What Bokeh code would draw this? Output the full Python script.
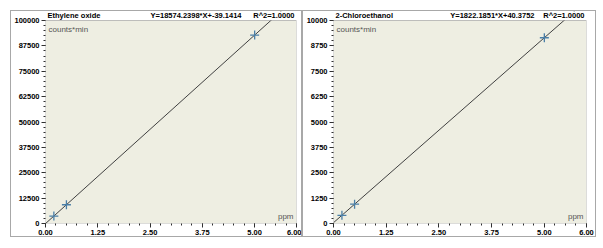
from bokeh.plotting import figure
from bokeh.models import Label, FixedTicker, Range1d, BoxAnnotation
from bokeh.layouts import row
from bokeh.embed import file_html
from bokeh.resources import INLINE

# ---- data ----
compounds = ["Ethylene oxide", "2-Chloroethanol"]
slopes = [18574.2398, 1822.1851]
intercepts = [-39.1414, 40.3752]
r2 = ["1.0000", "1.0000"]
x_points = [0.2, 0.5, 5.0]
y_points_eo = [3676, 9248, 92832]
y_points_ce = [405, 952, 9151]
y_max = [100000, 10000]
x_ticks = [0.0, 1.25, 2.5, 3.75, 5.0, 6.0]
x_tick_labels = ["0.00", "1.25", "2.50", "3.75", "5.00", "6.00"]
y_ticks_eo = [0, 12500, 25000, 37500, 50000, 62500, 75000, 87500, 100000]
y_ticks_ce = [0, 1250, 2500, 3750, 5000, 6250, 7500, 8750, 10000]
x_unit = "ppm"
y_unit = "counts*min"

BG = "#eeeee2"
FONT = "Liberation Sans"
HEADER_PX = 9      # header strip above the plotting area
AREA_PX = 203      # plotting area height


def panel(name, slope, icpt, r2txt, ys, ymax, yticks, width, left, right, eq_off):
    ytop = ymax * (AREA_PX + HEADER_PX) / AREA_PX
    p = figure(width=width, height=227, output_backend="svg", toolbar_location=None,
               x_range=Range1d(0, 6), y_range=Range1d(0, ytop),
               min_border_left=left, min_border_right=right,
               min_border_top=0, min_border_bottom=15)
    p.background_fill_color = "white"
    p.border_fill_color = "white"
    p.outline_line_color = None
    p.grid.visible = False
    p.styles = {"border": "1px solid #a8a8a8"}

    for ax in (p.xaxis[0], p.yaxis[0]):
        ax.major_label_text_font = FONT
        ax.major_label_text_font_style = "bold"
        ax.major_label_text_font_size = "7.5px"
        ax.major_label_text_color = "black"
        ax.axis_line_color = None
        ax.major_tick_line_color = "#303030"
        ax.minor_tick_line_color = "#303030"
        ax.major_tick_out = 4
        ax.major_tick_in = 0
        ax.minor_tick_out = 2
        ax.minor_tick_in = 0
        ax.major_label_standoff = 2

    minor_x = [i * 0.25 for i in range(25)]
    p.xaxis.ticker = FixedTicker(ticks=x_ticks, minor_ticks=minor_x)
    p.xaxis.major_label_overrides = {t: l for t, l in zip(x_ticks, x_tick_labels)}
    step = yticks[1] / 5
    p.yaxis.ticker = FixedTicker(ticks=yticks, minor_ticks=[i * step for i in range(41)])
    p.yaxis.major_label_overrides = {t: str(t) for t in yticks}

    # plotting area background
    p.add_layout(BoxAnnotation(left=0, right=6, bottom=0, top=ymax, level="underlay",
                               fill_color=BG, fill_alpha=1, line_color=None))

    lx = [0.0, 6.0]
    ly = [icpt + slope * v for v in lx]
    p.line(lx, ly, line_color="#404040", line_width=1)
    p.scatter(x_points, ys, marker="cross", size=9, line_color="#4a7fa8", line_width=1.3)

    # header strip hides the line above the area, plus area outline
    p.add_layout(BoxAnnotation(left=0, right=6, bottom=ymax, top=ytop,
                               fill_color="white", fill_alpha=1, line_color=None))
    p.add_layout(BoxAnnotation(left=0, right=6, bottom=0, top=ymax,
                               fill_alpha=0, line_color="#303030", line_width=1))

    p.add_layout(Label(x=0, y=ymax, x_offset=2, y_offset=1, text=name,
                       text_font=FONT, text_font_style="bold", text_font_size="7.5px",
                       text_baseline="bottom", text_color="black"))
    sign = "+" if icpt >= 0 else "+-"
    eq = f"Y={slope:.4f}*X{sign}{abs(icpt):.4f}"
    p.add_layout(Label(x=6, y=ymax, x_offset=eq_off, y_offset=1, text=eq,
                       text_font=FONT, text_font_style="bold", text_font_size="7.5px",
                       text_baseline="bottom", text_align="right", text_color="black"))
    p.add_layout(Label(x=6, y=ymax, x_offset=-2, y_offset=1, text=f"R^2={r2txt}",
                       text_font=FONT, text_font_style="bold", text_font_size="7.5px",
                       text_baseline="bottom", text_align="right", text_color="black"))
    p.add_layout(Label(x=0, y=ymax, x_offset=3, y_offset=-4, text=y_unit,
                       text_font=FONT, text_font_size="8px", text_baseline="top",
                       text_color="#555555"))
    p.add_layout(Label(x=6, y=0, x_offset=-3, y_offset=3, text=x_unit,
                       text_font=FONT, text_font_size="8px", text_baseline="bottom",
                       text_align="right", text_color="#555555"))
    return p


p1 = panel(compounds[0], slopes[0], intercepts[0], r2[0], y_points_eo, y_max[0],
           y_ticks_eo, 292, 33, 7, -55)
p1.margin = (10, 0, 0, 10)
p2 = panel(compounds[1], slopes[1], intercepts[1], r2[1], y_points_ce, y_max[1],
           y_ticks_ce, 294, 30, 11, -52)
p2.margin = (10, 0, 0, 0)

layout = row(p1, p2)
open("out.html", "w").write(file_html(layout, INLINE))
